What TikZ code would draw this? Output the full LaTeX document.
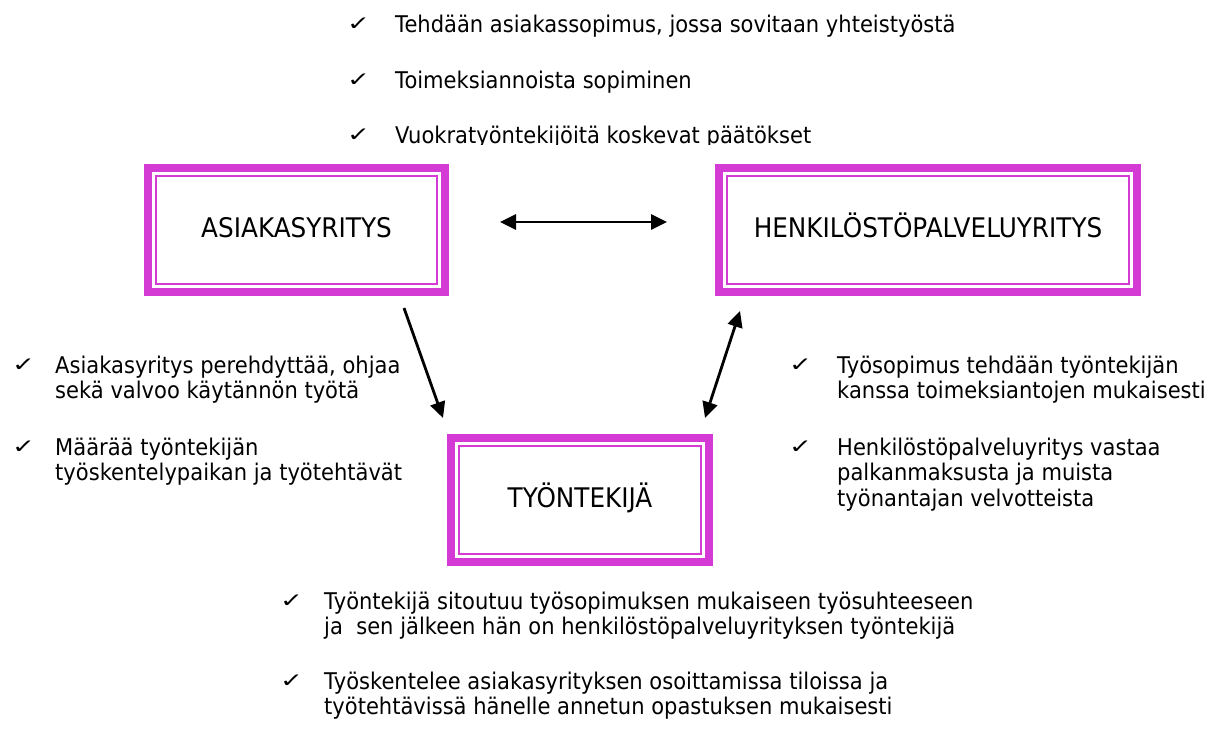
\documentclass[tikz,border=0pt]{standalone}
\usepackage{fontspec}
\setmainfont{DejaVu Sans}[FakeStretch=0.915]
\usetikzlibrary{arrows.meta}
\definecolor{boxpink}{RGB}{212,58,212}
\newcommand{\linetop}{\rule{0pt}{22pt}}
\newcommand{\checkmk}{\scalebox{1.5}[1.0]{✓}}
\setlength{\lineskiplimit}{-100pt}

\tikzset{
  firm/.style={draw=boxpink, line width=8pt, inner sep=0pt,
    text height=14pt, text depth=0pt, font=\fontsize{27}{30}\selectfont,
    path picture={\draw[boxpink, line width=2pt]
      ([shift={(8pt,-8pt)}]path picture bounding box.north west) rectangle
      ([shift={(-8pt,8pt)}]path picture bounding box.south east);}},
  tick/.style={anchor=base west, inner sep=0pt, yshift=2pt, font=\fontsize{20}{25}\selectfont},
  note/.style={anchor=north west, inner sep=0pt, align=left,
    font=\fontsize{23}{25.5}\selectfont},
  link/.style={line width=2.8pt, -{Triangle[length=16pt,width=15pt]}},
  twoway/.style={line width=2.8pt,
    {Triangle[length=16pt,width=15pt]}-{Triangle[length=16pt,width=15pt]}}
}

\begin{document}
\begin{tikzpicture}[x=1pt,y=-1pt]
   \useasboundingbox (0,0) rectangle (1206,728);

   % top list
   \begin{scope}
      \clip (0,0) rectangle (1206,144.5);
      \node[tick] (tk1) at (347,32)  {\checkmk};
      \node[tick] (tk2) at (347,88)  {\checkmk};
      \node[tick] (tk3) at (347,143) {\checkmk};
      \node[note] (sopimus)  at (395,10)  {\linetop Tehdään asiakassopimus, jossa sovitaan yhteistyöstä};
      \node[note] (toimeksi) at (395,66)  {\linetop Toimeksiannoista sopiminen};
      \node[note] (paatos)   at (395,121) {\linetop Vuokratyöntekijöitä koskevat päätökset};
   \end{scope}

   % boxes
   \node[firm, minimum width=297, minimum height=124] (asia) at (296.5,230) {ASIAKASYRITYS};
   \node[firm, minimum width=418, minimum height=124] (hen)  at (928,230)   {HENKILÖSTÖPALVELUYRITYS};
   \node[firm, minimum width=258, minimum height=124] (tyo)  at (580,500)   {TYÖNTEKIJÄ};

   % arrows
   \coordinate (a1) at (404,308);
   \coordinate (a2) at (443,418);
   \coordinate (b1) at (705,418);
   \coordinate (b2) at (740,311);
   \draw[twoway, shorten <=51pt, shorten >=48pt] ([yshift=8pt]asia.east) -- ([yshift=8pt]hen.west);
   \draw[link]   (a1) -- (a2);
   \draw[twoway] (b1) -- (b2);

   % left list
   \node[tick] (tl1) at (12,373) {\checkmk};
   \node[tick] (tl2) at (12,455) {\checkmk};
   \node[note] (ohjaa)  at (55,351) {\linetop Asiakasyritys perehdyttää, ohjaa\\sekä valvoo käytännön työtä};
   \node[note] (paikka) at (55,433) {\linetop Määrää työntekijän\\työskentelypaikan ja työtehtävät};

   % right list
   \node[tick] (tr1) at (789,373) {\checkmk};
   \node[tick] (tr2) at (789,455) {\checkmk};
   \node[note] (tyosop) at (837,351) {\linetop Työsopimus tehdään työntekijän\\kanssa toimeksiantojen mukaisesti};
   \node[note] (palkka) at (837,433) {\linetop Henkilöstöpalveluyritys vastaa\\palkanmaksusta ja muista\\työnantajan velvotteista};

   % bottom list
   \node[tick] (tb1) at (280,609) {\checkmk};
   \node[tick] (tb2) at (280,689) {\checkmk};
   \node[note] (sitoutuu) at (324,587) {\linetop Työntekijä sitoutuu työsopimuksen mukaiseen työsuhteeseen\\ja\ \ sen jälkeen hän on henkilöstöpalveluyrityksen työntekijä};
   \node[note] (tiloissa) at (324,667) {\linetop Työskentelee asiakasyrityksen osoittamissa tiloissa ja\\työtehtävissä hänelle annetun opastuksen mukaisesti};
\end{tikzpicture}
\end{document}
